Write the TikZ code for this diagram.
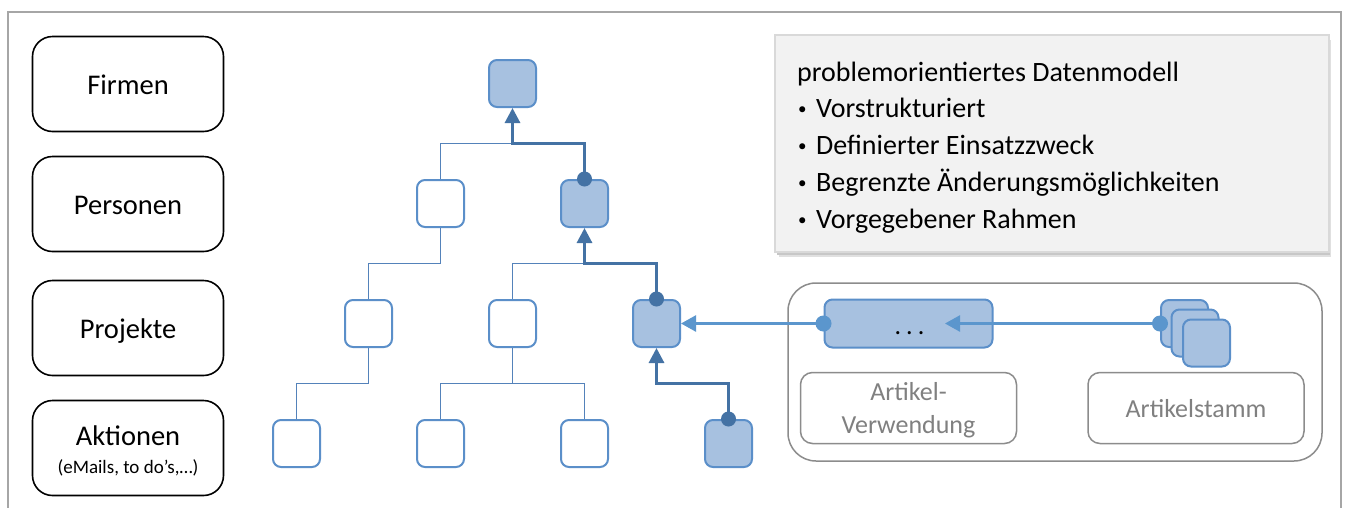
\documentclass[tikz,border=0pt]{standalone}
\usepackage{fontspec}
\setmainfont{Carlito}
\usetikzlibrary{arrows.meta}
\definecolor{nodeblue}{RGB}{91,143,201}
\definecolor{nodefill}{RGB}{167,193,224}
\definecolor{pathblue}{RGB}{68,114,164}
\definecolor{thinblue}{RGB}{84,130,186}
\definecolor{arrowblue}{RGB}{91,150,205}
\definecolor{framegray}{RGB}{166,166,166}
\definecolor{boxgray}{RGB}{140,140,140}
\definecolor{textgray}{RGB}{128,128,128}
\definecolor{notefill}{RGB}{242,242,242}
\definecolor{noteborder}{RGB}{217,217,217}
\begin{document}
\begin{tikzpicture}[x=1pt,y=-1pt,
  catbox/.style={draw=black,line width=1.6pt,rounded corners=20pt,minimum width=191pt,minimum height=95pt,inner sep=0pt},
  cattext/.style={anchor=base,inner sep=0pt,font=\fontsize{28.5}{32}\selectfont},
  emptynode/.style={draw=nodeblue,fill=white,line width=2pt,rounded corners=8pt,minimum size=47pt,inner sep=0pt},
  fullnode/.style={draw=nodeblue,fill=nodefill,line width=2pt,rounded corners=8pt,minimum size=47pt,inner sep=0pt},
  thinline/.style={draw=thinblue,line width=1.3pt},
  pathline/.style={draw=pathblue,line width=3pt,-{Triangle[length=15pt,width=15pt]}},
  pathdot/.style={fill=pathblue},
  lightline/.style={draw=arrowblue,line width=2.5pt,-{Triangle[length=15pt,width=16pt]}},
  lightdot/.style={fill=arrowblue},
  graybox/.style={draw=boxgray,line width=1.5pt,rounded corners=12pt,inner sep=0pt},
  graytext/.style={anchor=base,inner sep=0pt,text=textgray,font=\fontsize{26}{30}\selectfont},
  notetext/.style={anchor=base west,inner sep=0pt,font=\fontsize{28}{32}\selectfont},
  bullettext/.style={anchor=base west,inner sep=0pt,font=\fontsize{17}{20}\selectfont}
]
\useasboundingbox (0,0) rectangle (1345,507);
\fill[white] (0,0) rectangle (1345,507);
% outer frame
\draw[framegray,line width=2pt] (8,520) -- (8,12) -- (1341,12) -- (1341,520);

% category boxes
\node[catbox] (firmen) at (128,84) {};
\node[cattext] at (128,94) {Firmen};
\node[catbox] (personen) at (128,204) {};
\node[cattext] at (128,214) {Personen};
\node[catbox] (projekte) at (128,328) {};
\node[cattext] at (128,338) {Projekte};
\node[catbox] (aktionen) at (128,448) {};
\node[cattext] at (128,445) {Aktionen};
\node[anchor=base,inner sep=0pt,font=\fontsize{19}{22}\selectfont] at (128,473) {(eMails, to do’s,…)};

% tree nodes
\node[fullnode]  (n1)  at (512.5,83.5) {};
\node[emptynode] (n2a) at (440.5,203.5) {};
\node[fullnode]  (n2b) at (584.5,203.5) {};
\node[emptynode] (n3a) at (368.5,323.5) {};
\node[emptynode] (n3b) at (512.5,323.5) {};
\node[fullnode]  (n3c) at (656.5,323.5) {};
\node[emptynode] (n4a) at (296.5,443.5) {};
\node[emptynode] (n4b) at (440.5,443.5) {};
\node[emptynode] (n4c) at (584.5,443.5) {};
\node[fullnode]  (n4d) at (728.5,443.5) {};

\coordinate (j1) at (0,143.5);
\coordinate (j2) at (0,263.5);
\coordinate (j3) at (0,383.5);

% thin connectors
\draw[thinline] (n2a.north) -- (n2a.north |- j1) -- (n2b.north |- j1);
\draw[thinline] (n3a.north) -- (n3a.north |- j2) -| (n2a.south);
\draw[thinline] (n3b.north) -- (n3b.north |- j2) -- (n3c.north |- j2);
\draw[thinline] (n4a.north) -- (n4a.north |- j3) -| (n3a.south);
\draw[thinline] (n4b.north) -- (n4b.north |- j3) -- (n4c.north |- j3) -- (n4c.north);
\draw[thinline] (n3b.south) -- (n3b.south |- j3);

% highlighted path
\draw[pathline] (n2b.north) -- (n2b.north |- j1) -| (n1.south);
\draw[pathline] (n3c.north) -- (n3c.north |- j2) -| (n2b.south);
\draw[pathline] (n4d.north) -- (n4d.north |- j3) -| (n3c.south);
\fill[pathdot] (n2b.north) circle (7.5pt);
\fill[pathdot] (n3c.north) circle (7.5pt);
\fill[pathdot] (n4d.north) circle (7.5pt);

% note box
\fill[black!12] (779,40) rectangle (1331,257);
\fill[black!22] (777,38) rectangle (1330,255);
\draw[noteborder,fill=notefill,line width=1.5pt] (775,35) rectangle (1329,252);
\node[notetext] (t0) at (797,81) {problemorientiertes Datenmodell};
\node[bullettext] (b1) at (798,114) {•};
\node[notetext] (t1) at (816,117) {Vorstrukturiert};
\node[bullettext] (b2) at (798,151) {•};
\node[notetext] (t2) at (816,154) {Definierter Einsatzzweck};
\node[bullettext] (b3) at (798,188) {•};
\node[notetext] (t3) at (816,191) {Begrenzte Änderungsmöglichkeiten};
\node[bullettext] (b4) at (798,225) {•};
\node[notetext] (t4) at (816,228) {Vorgegebener Rahmen};

% article container
\draw[boxgray,line width=1.5pt,rounded corners=28pt] (788,283) rectangle (1322,461);
\node[graybox,minimum width=216pt,minimum height=71pt] (verw) at (908.5,408) {};
\node[graytext] at (908.5,400) {Artikel-};
\node[graytext] at (908.5,433) {Verwendung};
\node[graybox,minimum width=216pt,minimum height=71pt] (stamm) at (1196,408) {};
\node[graytext] at (1196,417) {Artikelstamm};

\node[fullnode,rounded corners=8pt,minimum width=168pt,minimum height=48pt] (dots) at (908.5,323.5) {};
\node[anchor=base,inner sep=0pt,font=\fontsize{26}{30}\selectfont] at (909.5,334) {.\hspace{5pt}.\hspace{5pt}.};

\node[fullnode,minimum size=47pt] (s1) at (1184.5,323.5) {};
\node[fullnode,minimum size=47pt] (s2) at (1195,333) {};
\node[fullnode,minimum size=47pt] (s3) at (1206.5,343) {};

\coordinate (tipin) at (945,323.5);
\draw[lightline] (s1.west) -- (tipin);
\draw[lightline] (dots.west) -- (n3c.east);
\fill[lightdot] (s1.west) circle (8pt);
\fill[lightdot] (dots.west) circle (8pt);
\end{tikzpicture}
\end{document}
